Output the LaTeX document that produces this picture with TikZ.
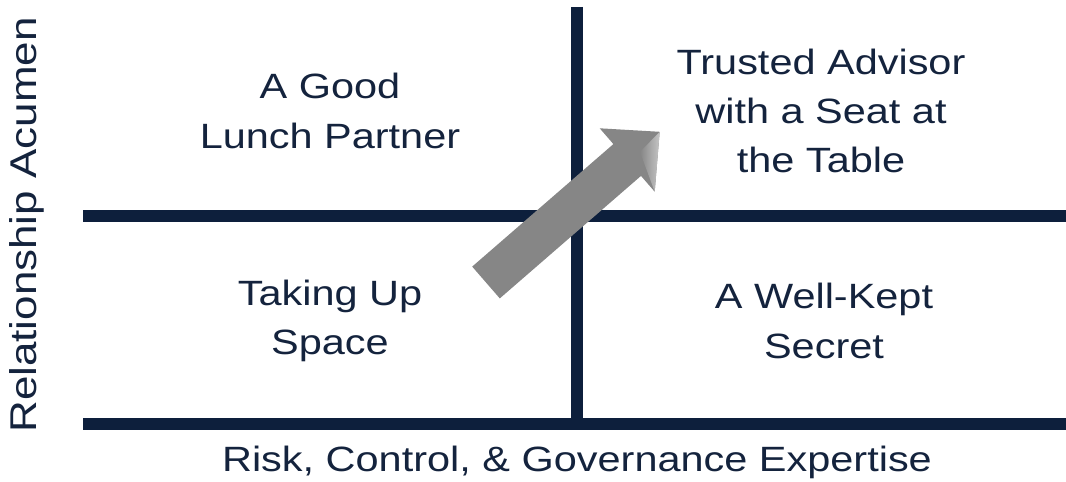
\documentclass[tikz,border=0pt]{standalone}
\usepackage{fontspec}
\setmainfont{Liberation Sans}[FakeStretch=1.18]
\usetikzlibrary{calc}
\definecolor{rulecolor}{HTML}{0D1F3C}
\definecolor{labelcolor}{HTML}{14233D}
\definecolor{arrowcolor}{HTML}{868686}
\tikzset{
  quad rule/.style={rulecolor,line width=6.3pt},
  quad base/.style={rulecolor,line width=6.8pt},
  quad label/.style={text=labelcolor,align=center,inner sep=0pt,
    font=\fontsize{20}{28}\selectfont},
  quad arrow/.style={fill=arrowcolor},
  quad bevel/.style={left color=arrowcolor,right color=gray!45}
}
\begin{document}
\begin{tikzpicture}[x=0.02cm,y=-0.02cm]
  \useasboundingbox (0,0) rectangle (1066,482);
  % axes of the grid
  \coordinate (midL) at (83,216);
  \coordinate (midR) at (1066,216);
  \coordinate (baseL) at (83,424);
  \coordinate (baseR) at (1066,424);
  \coordinate (axisTop) at (577,7);
  \coordinate (axisBot) at (577,424);
  \draw[quad rule] (midL) -- (midR);
  \draw[quad rule] (axisTop) -- (axisBot);
  \draw[quad base] (baseL) -- (baseR);
  % block arrow across the middle
  \fill[quad arrow] (472.2,266.6) -- (613.4,144.1) -- (599.7,128.3) -- (659.7,131.8)
    -- (654.7,191.7) -- (641,175.9) -- (499.8,298.4) -- cycle;
  \shade[quad bevel] (659.7,131.8) -- (654.7,191.7) -- (640,152) -- cycle;
  % quadrant texts
  \node[quad label] (lunch) at (330,111) {A Good\\Lunch Partner};
  \node[quad label] (advisor) at (821,111) {Trusted Advisor\\with a Seat at\\the Table};
  \node[quad label] (space) at (330,321) {Taking Up\\Space};
  \node[quad label] (secret) at (824,321) {A Well-Kept\\Secret};
  % axis titles
  \node[quad label] (xtitle) at (577,462) {Risk, Control, \& Governance Expertise};
  \node[quad label,rotate=90,font=\fontsize{21.2}{28}\selectfont] (ytitle) at (27,225) {Relationship Acumen};
\end{tikzpicture}
\end{document}
